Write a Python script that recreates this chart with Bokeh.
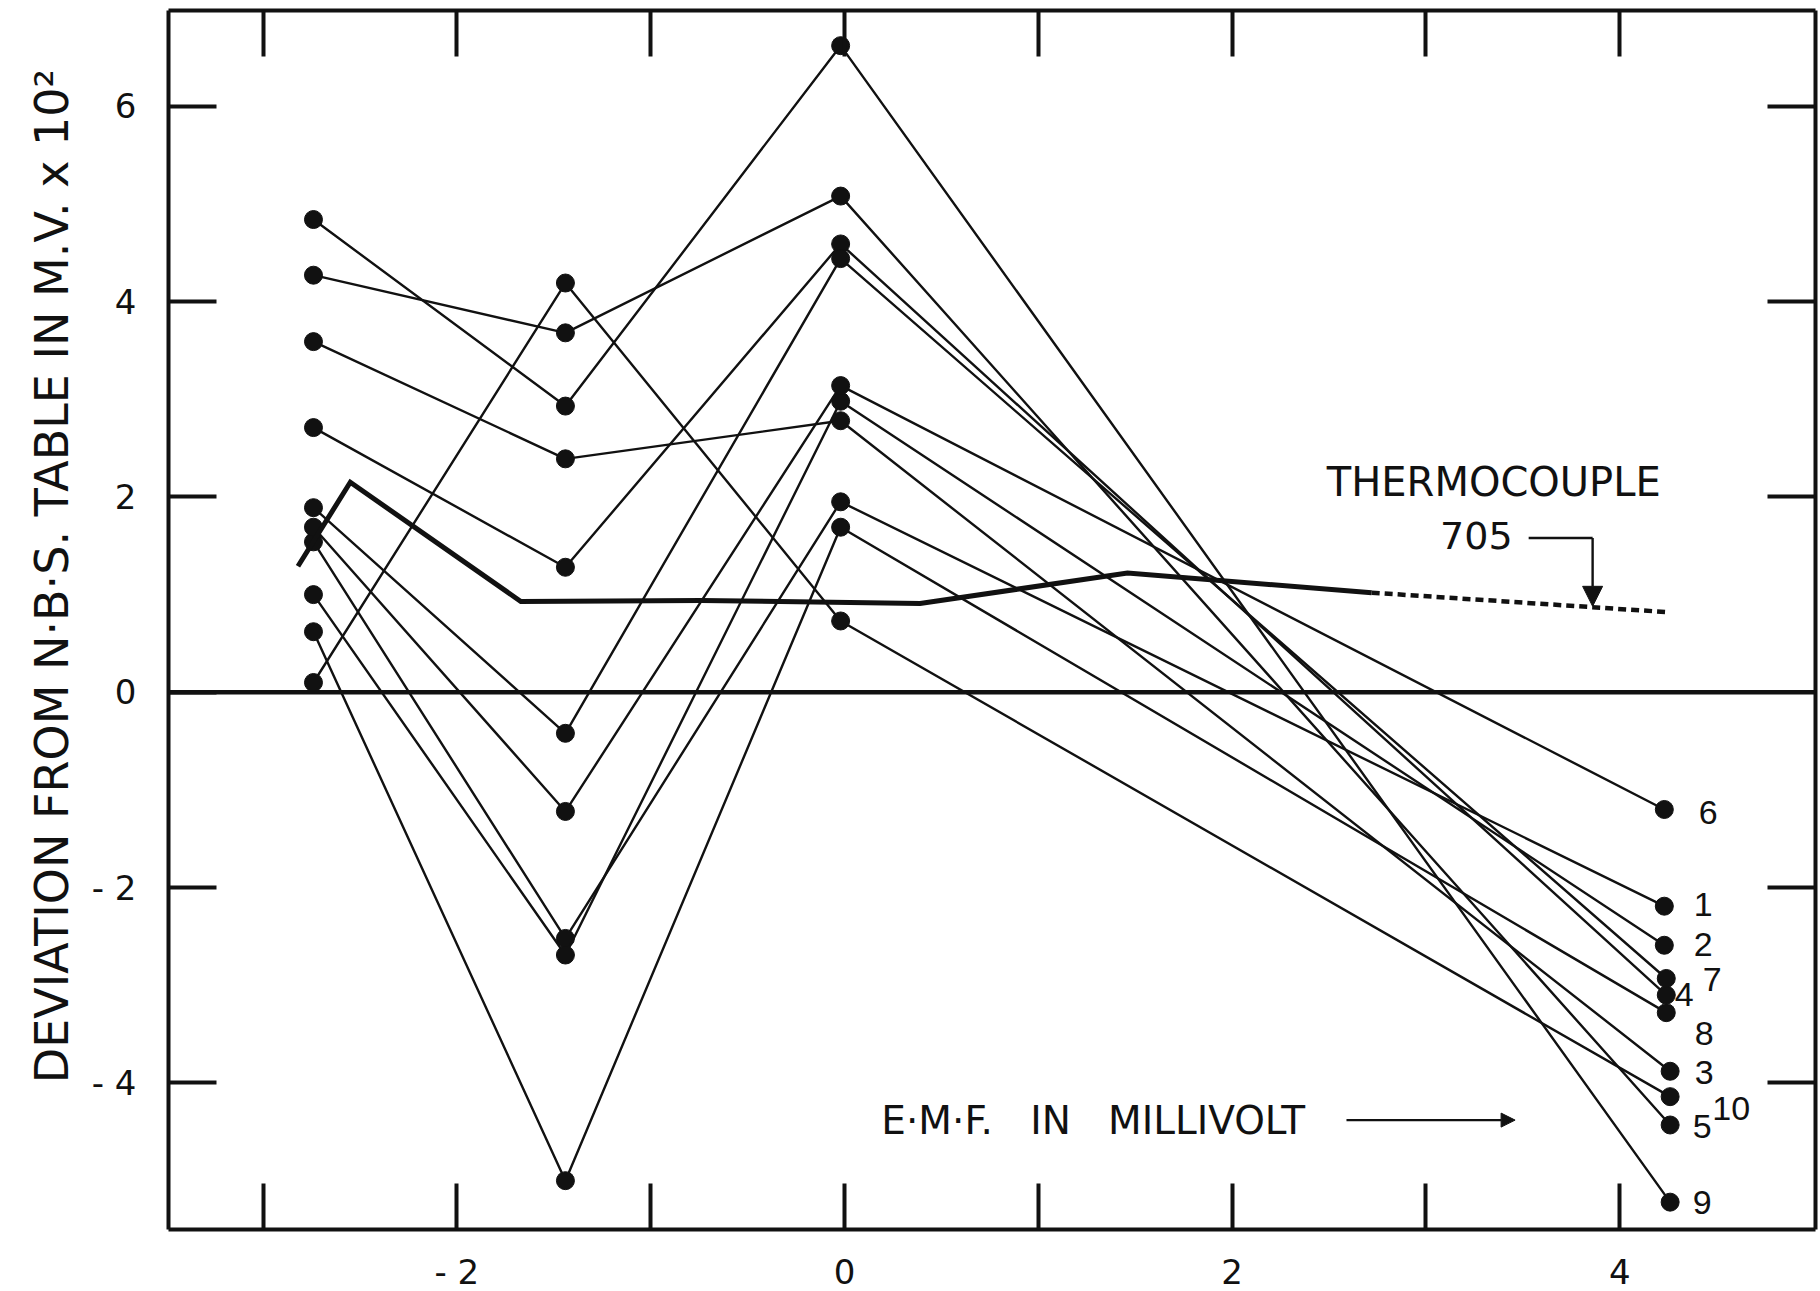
from bokeh.plotting import figure
from bokeh.models import (ColumnDataSource, FixedTicker, LinearAxis, Span, Arrow,
                          NormalHead, Range1d, Label)
from bokeh.core.properties import value
from bokeh.embed import file_html
from bokeh.resources import INLINE

# e.m.f. (mV) of the three common calibration points
emf_points = [-2.74, -1.44, -0.02]

# thermocouple numbers and the e.m.f. of their last calibration point
thermocouple_ids = ["1", "2", "3", "4", "5", "6", "7", "8", "9", "10"]
emf_last = [4.23, 4.23, 4.26, 4.24, 4.26, 4.23, 4.24, 4.24, 4.26, 4.26]

# deviation from N.B.S. table (mV x 10^2) at each calibration point
dev_1 = [1.54, -2.52, 1.95, -2.19]
dev_2 = [1.00, -2.69, 2.98, -2.59]
dev_3 = [3.59, 2.39, 2.78, -3.88]
dev_4 = [2.71, 1.28, 4.59, -3.10]
dev_5 = [4.27, 3.68, 5.08, -4.43]
dev_6 = [1.69, -1.22, 3.14, -1.20]
dev_7 = [1.89, -0.42, 4.44, -2.93]
dev_8 = [0.62, -5.00, 1.69, -3.28]
dev_9 = [4.84, 2.93, 6.62, -5.22]
dev_10 = [0.10, 4.19, 0.73, -4.14]
deviations = [dev_1, dev_2, dev_3, dev_4, dev_5, dev_6, dev_7, dev_8, dev_9, dev_10]

# reference thermocouple 705: measured part and extrapolated part
tc705_emf = [-2.82, -2.55, -1.67, -0.74, 0.39, 1.46, 2.72]
tc705_dev = [1.29, 2.15, 0.93, 0.94, 0.91, 1.22, 1.02]
tc705_ext_emf = [2.72, 4.25]
tc705_ext_dev = [1.02, 0.82]

# axis ticks
x_major = [-2, 0, 2, 4]
x_minor = [-3, -1, 1, 3]
x_tick_labels = {-2: "- 2", 0: "0", 2: "2", 4: "4"}
y_ticks = [-4, -2, 0, 2, 4, 6]
y_frame_ticks = [-4, -2, 2, 4, 6]
y_tick_labels = {-4: "- 4", -2: "- 2", 0: "0", 2: "2", 4: "4", 6: "6"}

INK = "#111111"
FONT = "DejaVu Sans"
NB = "\u00a0"

p = figure(frame_width=1647, frame_height=1219,
           x_range=Range1d(-3.488, 5.01), y_range=Range1d(-5.50, 6.98),
           output_backend="svg", toolbar_location=None,
           min_border_left=168, min_border_right=5,
           min_border_top=10, min_border_bottom=62,
           background_fill_color="white", border_fill_color="white")
p.grid.visible = False
p.outline_line_color = None


def style_axis(ax, ticker, tick_len):
    ax.ticker = ticker
    for kind in ("major", "minor"):
        setattr(ax, kind + "_tick_in", tick_len)
        setattr(ax, kind + "_tick_out", 0)
        setattr(ax, kind + "_tick_line_width", 4)
        setattr(ax, kind + "_tick_line_color", INK)
    ax.axis_line_width = 4
    ax.axis_line_color = INK
    ax.major_label_text_font = FONT
    ax.major_label_text_font_size = "34px"
    ax.major_label_text_color = INK


xb = p.xaxis[0]
style_axis(xb, FixedTicker(ticks=x_major, minor_ticks=x_minor), 46)
xb.major_label_overrides = x_tick_labels
xb.major_label_standoff = 22

yl = p.yaxis[0]
style_axis(yl, FixedTicker(ticks=y_ticks, minor_ticks=[]), 48)
yl.major_label_overrides = y_tick_labels
yl.major_label_standoff = 32
yl.axis_label = NB * 6 + "DEVIATION FROM N·B·S. TABLE IN M.V. x 10²"
yl.axis_label_text_font = FONT
yl.axis_label_text_font_size = "46px"
yl.axis_label_text_font_style = "normal"
yl.axis_label_text_color = INK
yl.axis_label_standoff = 10

# frame ticks on the top and right edges (no labels)
xt = LinearAxis()
style_axis(xt, FixedTicker(ticks=[], minor_ticks=x_major + x_minor), 46)
p.add_layout(xt, "above")

yr = LinearAxis()
style_axis(yr, FixedTicker(ticks=[], minor_ticks=y_frame_ticks), 48)
p.add_layout(yr, "right")

# zero deviation line
p.add_layout(Span(location=0, dimension="width", line_color=INK, line_width=4.5))

# thermocouple curves
end_x, end_y = [], []
for tid, dev, xl in zip(thermocouple_ids, deviations, emf_last):
    xs = emf_points + [xl]
    p.line(xs, dev, line_color=INK, line_width=2.4)
    p.scatter(xs, dev, size=18, marker="circle", fill_color=INK, line_color=INK)
    end_x.append(xl)
    end_y.append(dev[-1])

# thermocouple 705
p.line(tc705_emf, tc705_dev, line_color=INK, line_width=5, line_join="miter")
p.line(tc705_ext_emf, tc705_ext_dev, line_color=INK, line_width=4.5,
       line_dash="8 5")

# numbers beside the last points
label_dx = [39, 39, 34, 18, 32, 44, 46, 38, 32, 61]
label_dy = [-2, -1, 1, -1, 2, 3, 1, 21, 0, 12]
labels = ColumnDataSource(dict(x=end_x, y=end_y, text=thermocouple_ids,
                               dx=label_dx, dy=label_dy))
p.text(x="x", y="y", text="text", source=labels, x_offset="dx", y_offset="dy",
       text_font=value("Liberation Sans"), text_font_size="34px",
       text_align="center", text_baseline="middle", text_color=INK)

# annotation for thermocouple 705
p.add_layout(Label(x=3.35, y=2.15, text="THERMOCOUPLE", text_font=FONT,
                   text_font_size="40px", text_align="center",
                   text_baseline="middle", text_color=INK))
p.add_layout(Label(x=3.26, y=1.60, text="705", text_font=FONT,
                   text_font_size="38px", text_align="center",
                   text_baseline="middle", text_color=INK))
p.line([3.53, 3.86], [1.58, 1.58], line_color=INK, line_width=2.4)
p.add_layout(Arrow(x_start=3.86, y_start=1.58, x_end=3.86, y_end=0.88,
                   line_color=INK, line_width=2.4,
                   end=NormalHead(size=20, fill_color=INK, line_color=INK)))

# x quantity label with its arrow
p.add_layout(Label(x=0.19, y=-4.38,
                   text="E·M·F." + NB * 2 + " IN" + NB * 2 + " MILLIVOLT",
                   text_font=FONT, text_font_size="39px", text_align="left",
                   text_baseline="middle", text_color=INK))
p.add_layout(Arrow(x_start=2.59, y_start=-4.38, x_end=3.46, y_end=-4.38,
                   line_color=INK, line_width=2.4,
                   end=NormalHead(size=14, fill_color=INK, line_color=INK)))

open("out.html", "w").write(file_html(p, INLINE))
